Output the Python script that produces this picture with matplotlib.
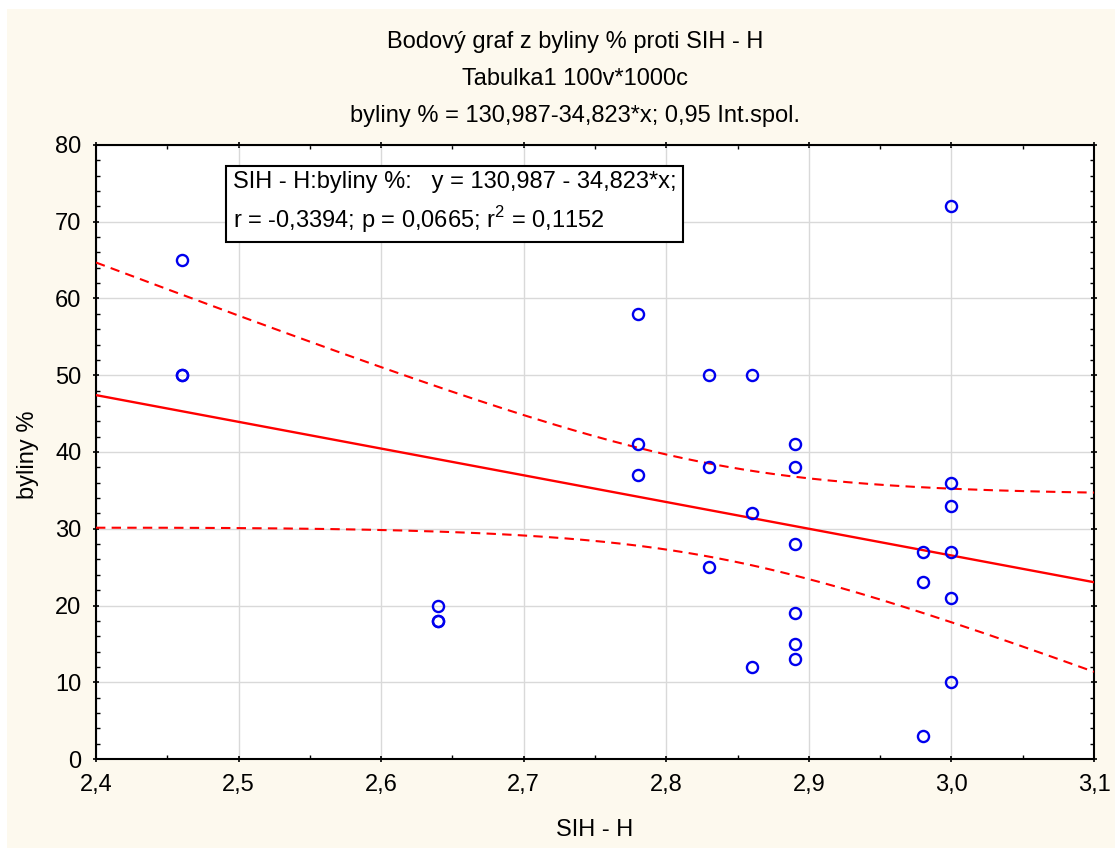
import numpy as np
import matplotlib
matplotlib.use('Agg')
import matplotlib.pyplot as plt
from matplotlib.patches import Rectangle
from matplotlib.ticker import FuncFormatter, MultipleLocator

plt.rcParams['font.family'] = ['Liberation Sans', 'DejaVu Sans']
plt.rcParams['mathtext.fontset'] = 'custom'
plt.rcParams['mathtext.rm'] = 'Liberation Sans'

# SIH - H vs byliny %
sih = [2.46, 2.46, 2.46,
       2.64, 2.64, 2.64,
       2.78, 2.78, 2.78,
       2.83, 2.83, 2.83,
       2.86, 2.86, 2.86,
       2.89, 2.89, 2.89, 2.89, 2.89, 2.89,
       2.98, 2.98, 2.98,
       3.00, 3.00, 3.00, 3.00, 3.00, 3.00]
byliny = [65, 50, 50,
          20, 18, 18,
          58, 41, 37,
          50, 38, 25,
          50, 32, 12,
          41, 38, 28, 19, 15, 13,
          27, 23, 3,
          72, 36, 33, 27, 21, 10]

title_lines = ['Bodový graf z byliny % proti SIH - H',
               'Tabulka1 100v*1000c',
               'byliny % = 130,987-34,823*x; 0,95 Int.spol.']
box_text = 'SIH - H:byliny %:   y = 130,987 - 34,823*x;\nr = -0,3394; p = 0,0665; r$^2$ = 0,1152'

x = np.array(sih)
y = np.array(byliny)
n = len(x)
b1, b0 = np.polyfit(x, y, 1)
res = y - (b0 + b1 * x)
s = np.sqrt(np.sum(res ** 2) / (n - 2))
sxx = np.sum((x - x.mean()) ** 2)
t = 2.0484  # t(0.975, 28)

xs = np.linspace(2.4, 3.1, 200)
ys = b0 + b1 * xs
hw = t * s * np.sqrt(1.0 / n + (xs - x.mean()) ** 2 / sxx)

fs = 17

fig = plt.figure(figsize=(11.15, 8.48), dpi=100)
fig.patch.set_facecolor('white')
fig.patches.append(Rectangle((7 / 1115, 0), 1, 1 - 9 / 848, transform=fig.transFigure,
                             facecolor='#fdf9ee', edgecolor='none', zorder=-10))

ax = fig.add_axes([96 / 1115, 1 - 759 / 848, 998 / 1115, 614 / 848])
ax.set_facecolor('white')

ax.plot(xs, ys, color='red', lw=1.7, zorder=3)
ax.plot(xs, ys + hw, color='red', lw=1.5, ls=(0, (4.5, 3)), zorder=3)
ax.plot(xs, ys - hw, color='red', lw=1.5, ls=(0, (4.5, 3)), zorder=3)
ax.plot(x, y, 'o', mfc='none', mec='#0000ee', ms=8, mew=1.7, zorder=4)

ax.set_xlim(2.4, 3.1)
ax.set_ylim(0, 80)
ax.xaxis.set_major_locator(MultipleLocator(0.1))
ax.xaxis.set_minor_locator(MultipleLocator(0.05))
ax.yaxis.set_major_locator(MultipleLocator(10))
ax.yaxis.set_minor_locator(MultipleLocator(2))
ax.xaxis.set_major_formatter(FuncFormatter(lambda v, p: ('%.1f' % v).replace('.', ',')))
ax.yaxis.set_major_formatter(FuncFormatter(lambda v, p: '%d' % v))
ax.grid(True, which='major', color='#d9d9d9', lw=1.0, zorder=0)
ax.set_axisbelow(True)
ax.tick_params(which='major', direction='inout', length=5, width=1.2, labelsize=fs,
               top=True, right=True, pad=8)
ax.tick_params(which='minor', direction='in', length=3, width=1.0, top=True, right=True)
for sp in ax.spines.values():
    sp.set_linewidth(1.5)

fig.text(595 / 1115, 1 - 830 / 848, 'SIH - H', ha='center', va='center', fontsize=fs)
fig.text(28 / 1115, 1 - 455 / 848, 'byliny %', ha='center', va='center', fontsize=fs,
         rotation=90)

for i, line in enumerate(title_lines):
    fig.text(0.516, 1 - (42 + 37 * i) / 848, line, ha='center', va='center', fontsize=fs)

ax.text(0.137, 0.906, box_text, transform=ax.transAxes, ha='left', va='center',
        fontsize=fs, linespacing=1.45,
        bbox=dict(boxstyle='square,pad=0.3', facecolor='white', edgecolor='black', lw=1.5),
        zorder=6)

fig.savefig('out.png', dpi=100, facecolor=fig.get_facecolor())
